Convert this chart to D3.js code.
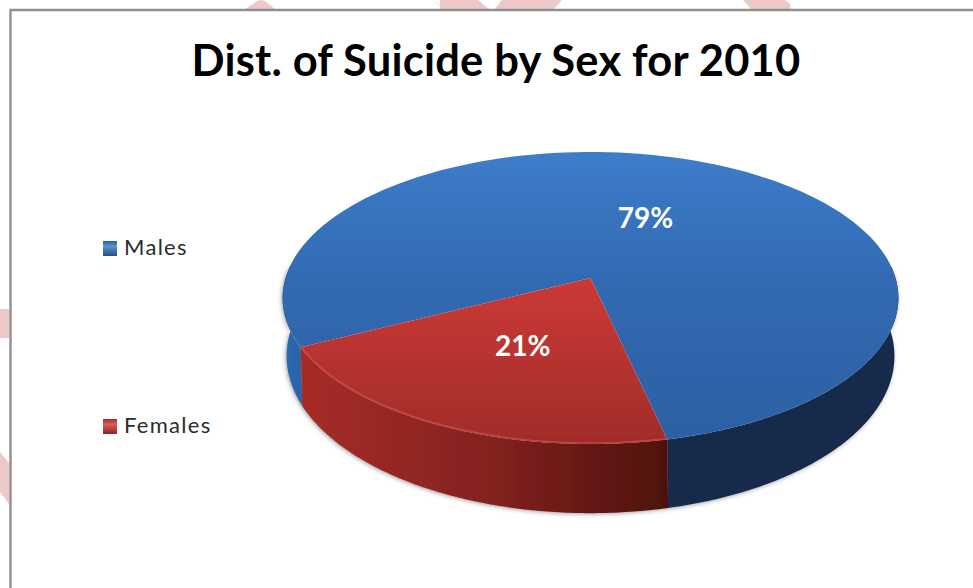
<!DOCTYPE html>
<html>
<head>
<meta charset="utf-8">
<script src="https://cdn.jsdelivr.net/npm/d3@7/dist/d3.min.js"></script>
<style>
  html, body { margin: 0; padding: 0; background: #fff; }
  svg { display: block; }
</style>
</head>
<body>
<svg id="chart" width="973" height="588"></svg>
<script>
const titleText = "Dist. of Suicide by Sex for 2010";
const categories = ["Males", "Females"];
const shares = [79, 21];

const svg = d3.select("#chart");
const defs = svg.append("defs");

// Page ornament behind the chart frame
const ornament = [
  [[244,10],[257,1],[261,0],[265,1],[276,10]],
  [[433,0],[447,10],[440,10],[440,6]],
  [[440,0],[478,0],[490,10],[440,10]],
  [[502,0],[562,0],[553,10],[494,10]],
  [[743,0],[785,0],[790,4],[791,10],[752,10]],
  [[0,309],[9,309],[9,338],[0,338]],
  [[0,452],[9,463],[9,504],[0,492]]
];
svg.append("g").selectAll("polygon").data(ornament).join("polygon")
  .attr("points", d => d.join(" "))
  .attr("fill", "#ecc8c8");

// Chart frame: open at the right and bottom edges
svg.append("path").attr("d", "M10.5,588V10H973")
  .attr("fill", "none").attr("stroke", "#8f8f8f").attr("stroke-width", 2.4);

function gradient(id, x1, y1, x2, y2, stops) {
  const g = defs.append("linearGradient").attr("id", id)
    .attr("gradientUnits", "userSpaceOnUse")
    .attr("x1", x1).attr("y1", y1).attr("x2", x2).attr("y2", y2);
  stops.forEach(([o, c]) => g.append("stop").attr("offset", o).attr("stop-color", c));
}
gradient("maleTop", 0, 152, 0, 445, [[0, "#3d7cca"], [0.5, "#3168af"], [1, "#2c60a3"]]);
gradient("femaleTop", 0, 277, 0, 445, [[0, "#cc3a36"], [1, "#a02c29"]]);
gradient("maleSide", 282, 0, 899, 0, [[0, "#2e69b0"], [0.05, "#2761a6"], [0.09, "#1d4a80"], [0.6, "#14294a"], [1, "#13294b"]]);
gradient("femaleSide", 306, 0, 667, 0, [[0, "#a62c28"], [0.5, "#84221f"], [1, "#4e110d"]]);
gradient("maleKey", 0, 241, 0, 256, [[0, "#2a5f9e"], [0.35, "#5c92cf"], [1, "#234f86"]]);
gradient("femaleKey", 0, 419, 0, 434, [[0, "#a52b28"], [0.35, "#d9605a"], [1, "#8a2220"]]);

const soft = defs.append("filter").attr("id", "soft")
  .attr("x", "-10%").attr("y", "-10%").attr("width", "120%").attr("height", "120%");
soft.append("feGaussianBlur").attr("stdDeviation", 0.6);
const halo = defs.append("filter").attr("id", "halo")
  .attr("x", "-10%").attr("y", "-10%").attr("width", "120%").attr("height", "120%");
halo.append("feGaussianBlur").attr("stdDeviation", 2);

// Tilted disc: a circle of unit radius seen in perspective
const topDisc = { cx: 590.5, cy: 278, sx: 305, sy: 143.3, p: 0.137 };
const lowDisc = { cx: 590.5, cy: 331, sx: 300, sy: 153, p: 0.16 };
const rad = d => d * Math.PI / 180;

function project(disc, angle, r = 1) {
  const u = r * Math.sin(angle), v = -r * Math.cos(angle);
  const w = 1 - disc.p * v;
  return [disc.cx + disc.sx * u / w, disc.cy + disc.sy * v / w];
}
const rim = (disc, a0, a1) =>
  d3.range(0, 121).map(i => project(disc, a0 + (a1 - a0) * i / 120));
const line = d3.line();

const slices = d3.pie().sort(null).startAngle(rad(243)).endAngle(rad(243 + 360))(shares);
const topFill = ["url(#maleTop)", "url(#femaleTop)"];
const sideFill = ["url(#maleSide)", "url(#femaleSide)"];

const pieGroup = svg.append("g").attr("filter", "url(#soft)");

// Parts of each slice's wall that face the viewer
const front = [rad(85), rad(275)];
function wallSpans(s) {
  const spans = [];
  [0, 2 * Math.PI].forEach(k => {
    const a = Math.max(s.startAngle, front[0] + k);
    const b = Math.min(s.endAngle, front[1] + k);
    if (a < b) spans.push([a, b]);
  });
  return spans;
}

// Soft grey shadow hugging the wall
const wallOutline = rim(topDisc, front[0], front[1]).concat(rim(lowDisc, front[0], front[1]).reverse());
pieGroup.append("path").attr("d", line(wallOutline) + "Z")
  .attr("fill", "#555").attr("opacity", 0.55).attr("filter", "url(#halo)")
  .attr("transform", "translate(-1,1)");

slices.forEach(s => {
  wallSpans(s).forEach(([a, b]) => {
    const pts = rim(topDisc, a, b).concat(rim(lowDisc, a, b).reverse());
    pieGroup.append("path").attr("d", line(pts) + "Z")
      .attr("fill", sideFill[s.index]);
  });
});

slices.forEach(s => {
  const pts = [[topDisc.cx, topDisc.cy]].concat(rim(topDisc, s.startAngle, s.endAngle));
  pieGroup.append("path").attr("d", line(pts) + "Z")
    .attr("fill", topFill[s.index]);
});

// Bevel highlight along the front edge of the red slice's top face
const femaleSlice = slices[1];
pieGroup.append("path")
  .attr("d", line(rim(topDisc, femaleSlice.startAngle, femaleSlice.endAngle)))
  .attr("fill", "none").attr("stroke", "#cf4e47")
  .attr("stroke-width", 1.6).attr("opacity", 0.7)
  .attr("transform", "translate(0,-1)");

// Percentage labels sit halfway along each slice's mid angle
const labelFont = "Lato, 'Noto Sans', sans-serif";
const labelNudge = [-5, 0];
svg.append("g").selectAll("text").data(slices).join("text")
  .attr("transform", d => {
    const [x, y] = project(topDisc, (d.startAngle + d.endAngle) / 2, 0.49);
    return `translate(${x + labelNudge[d.index]},${y})`;
  })
  .attr("text-anchor", "middle").attr("dy", "0.36em")
  .attr("font-family", labelFont).attr("font-weight", 700).attr("font-size", 28)
  .attr("fill", "#fff").text(d => d.data + "%");

// Title
svg.append("text").attr("x", 496).attr("y", 76).attr("text-anchor", "middle")
  .attr("font-family", labelFont).attr("font-weight", 700).attr("font-size", 43.5)
  .attr("letter-spacing", 0.2)
  .attr("fill", "#000").text(titleText);

// Legend
const legendY = d3.scalePoint().domain(categories).range([248, 426]);
const keyFill = ["url(#maleKey)", "url(#femaleKey)"];
const legend = svg.append("g");
categories.forEach((c, i) => {
  const y = legendY(c);
  legend.append("rect").attr("x", 103).attr("y", y - 7).attr("width", 14).attr("height", 15)
    .attr("fill", keyFill[i]).attr("filter", "url(#soft)");
  legend.append("text").attr("x", 124).attr("y", y + 7)
    .attr("font-family", labelFont).attr("font-size", 22).attr("letter-spacing", 1.3)
    .attr("fill", "#2c2c2c").text(c);
});
</script>
</body>
</html>
